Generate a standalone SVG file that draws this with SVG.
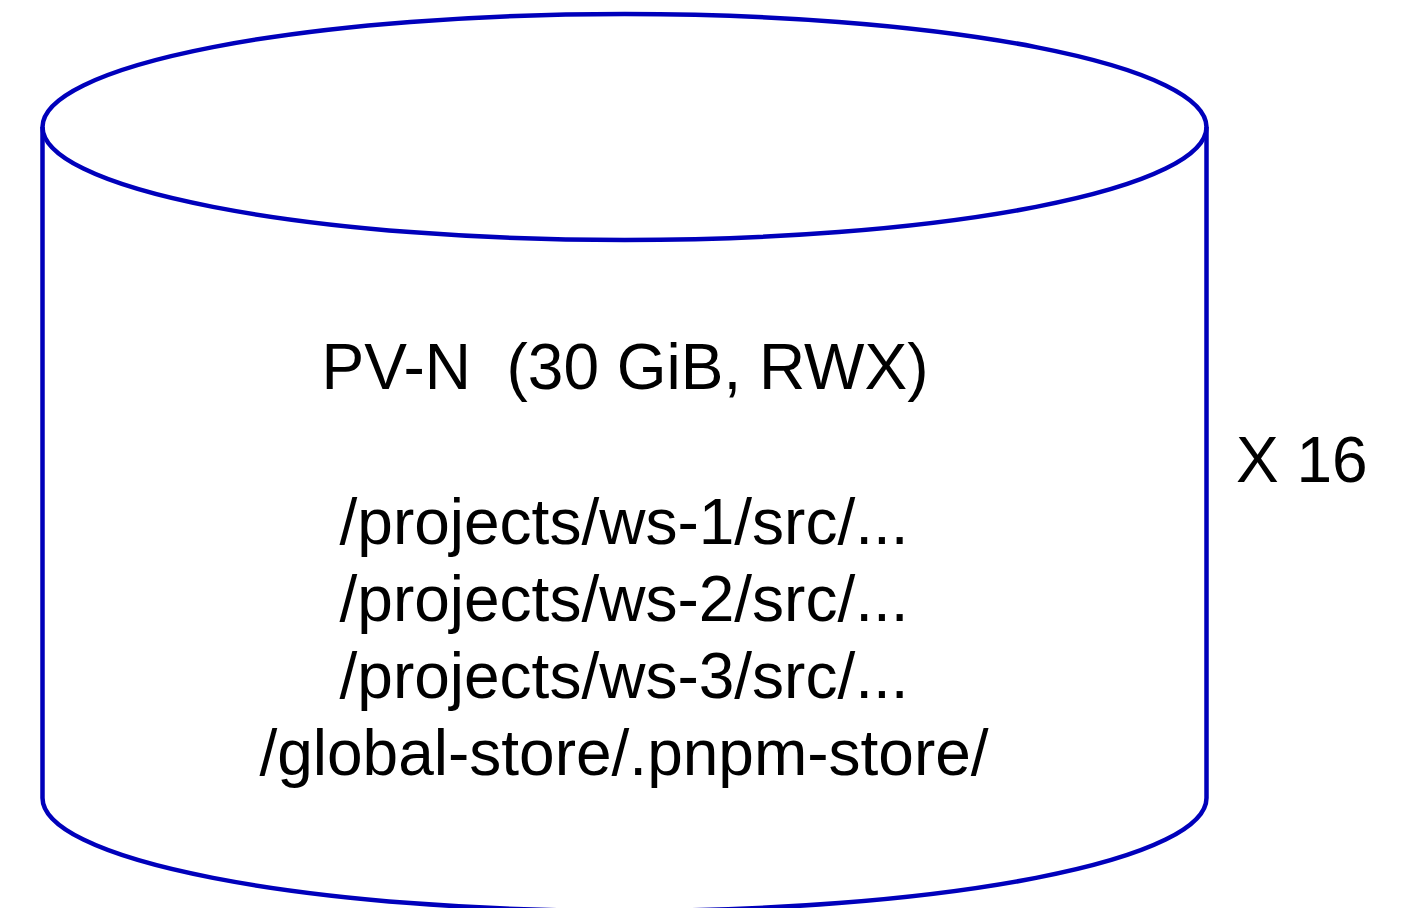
<svg xmlns="http://www.w3.org/2000/svg" width="1409" height="908" viewBox="0 0 1409 908">
<style>
.shape{fill:none;stroke:#0000BB;stroke-width:4.5}
text{font-family:"Liberation Sans",Arial,sans-serif;font-size:64px;fill:#000;white-space:pre}
</style>
<rect width="1409" height="908" fill="#fff"/>
<g id="pv-n">
<path class="shape" d="M42.5,127 L42.5,798 A582,113 0 0 0 1206.5,798 L1206.5,127"/>
<ellipse class="shape" cx="624.5" cy="127" rx="582" ry="113"/>
<text x="625" y="389" text-anchor="middle" xml:space="preserve">PV-N  (30 GiB, RWX)</text>
<text x="624" y="544" text-anchor="middle">/projects/ws-1/src/...</text>
<text x="624" y="621" text-anchor="middle">/projects/ws-2/src/...</text>
<text x="624" y="698" text-anchor="middle">/projects/ws-3/src/...</text>
<text x="624" y="775" text-anchor="middle">/global-store/.pnpm-store/</text>
</g>
<g id="multiplier">
<text x="1236" y="482">X 16</text>
</g>
<g id="connectors"></g>
</svg>
